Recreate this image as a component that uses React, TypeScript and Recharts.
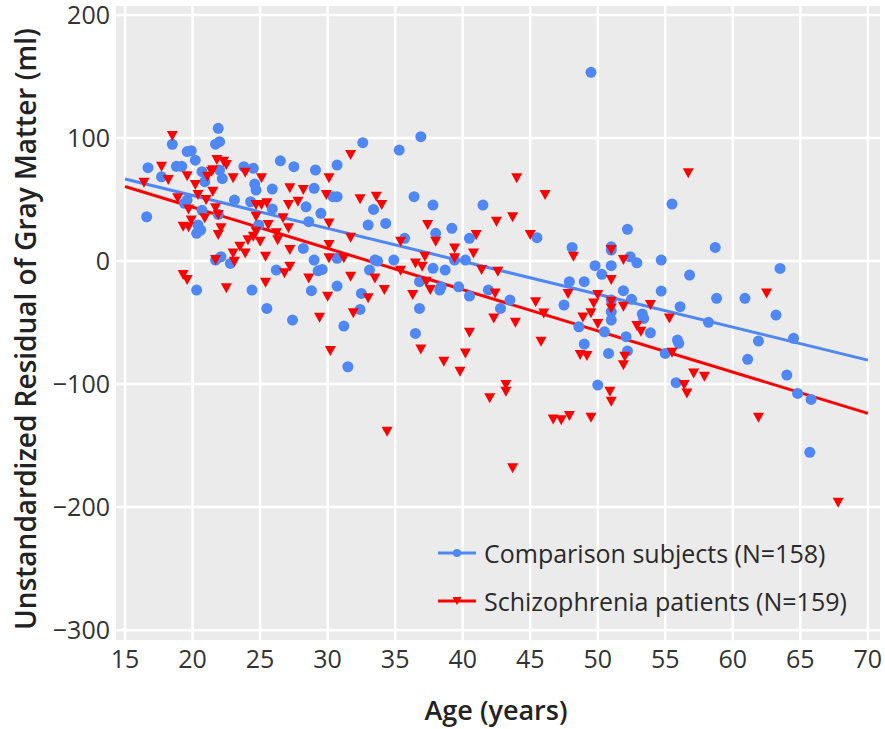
import { ScatterChart, Scatter, XAxis, YAxis, CartesianGrid } from 'recharts'

// Age (years) and gray-matter residual (ml) for each group
const comparisonAges = [
  21.9, 22.0, 21.7, 18.5, 19.6, 19.9, 20.2, 16.7, 18.8, 19.2, 17.7, 20.7, 22.0, 22.2, 20.9, 23.8,
  24.5, 26.5, 27.5, 24.6, 24.7, 25.9, 19.6, 19.4, 23.1, 24.3, 20.7, 21.9, 25.9, 16.6, 20.4, 20.3,
  20.6, 24.9, 26.2, 22.1, 21.7, 22.8, 20.3, 24.4, 25.5, 27.4,
  32.6, 36.9, 35.3, 29.1, 30.7, 29.0, 30.7, 30.4, 28.4, 29.5, 33.4, 33.0, 34.3, 36.4, 37.8, 41.5,
  39.2, 40.5, 38.0, 35.7, 28.6, 28.2, 29.0, 29.3, 29.6, 28.8, 30.7, 30.7, 32.5, 32.4, 31.2, 31.5,
  33.5, 33.7, 33.1, 34.9, 36.8, 36.8, 36.5, 37.8, 38.7, 38.4, 38.3, 39.4, 40.2, 39.7, 40.5, 41.9,
  42.8,
  49.5, 55.5, 45.5, 52.2, 48.1, 51.0, 51.0, 52.4, 52.9, 54.7, 49.8, 50.3, 51.0, 47.9, 49.0, 51.9,
  52.5, 54.7, 56.1, 56.8, 43.5, 47.5, 51.0, 51.0, 51.0, 53.3, 53.4, 48.6, 50.5, 52.1, 53.9, 55.9,
  56.0, 49.0, 50.8, 52.2, 55.0, 50.0, 55.8,
  58.7, 63.5, 58.8, 60.9, 63.2, 58.2, 61.9, 64.5, 61.1, 64.0, 64.8, 65.8, 65.7,
]
const comparisonResiduals = [
  107.9, 97, 95, 94.9, 89, 89.7, 82, 75.9, 77, 77, 68.5, 72.6, 74, 67, 64.5, 76.7,
  75.4, 81.5, 76.7, 62.6, 57.7, 58.5, 49.6, 46.9, 49.6, 48.2, 41.2, 38, 42.3, 36, 29.3, 22.5,
  25.2, 29.3, -7.3, 3.5, 0.8, -1.9, -23.6, -23.6, -38.5, -48,
  96.2, 101.1, 90.2, 74, 78, 59.1, 52.3, 52.3, 44.1, 38.8, 42, 29.3, 30.6, 52.3, 45.5, 45.5,
  26.6, 18.5, 22.5, 18.5, 32, 10.3, 0.8, -7.9, -6.8, -24.1, 2.2, -20.3, -26.3, -39.3, -52.8, -85.9,
  0.8, 0, -7.3, 0.8, -16.8, -38.5, -58.8, -5.9, -7.3, -20.9, -23.6, 0.8, 0.8, -20.9, -28.5, -23.6,
  -38.5,
  153.4, 46.3, 19, 25.8, 11.1, 11.6, 8.9, 3.5, -1.4, 0.8, -3.8, -10.8, -3.8, -16.8, -16.8, -24.1,
  -31.1, -24.4, -37.1, -11.4, -31.7, -35.8, -31.7, -41.2, -48, -43.1, -46.6, -53.4, -57.5, -61.5, -58.3, -64.2,
  -66.9, -67.5, -75.1, -73.2, -75.1, -100.8, -98.9,
  11.1, -6, -30.3, -30.3, -43.9, -49.8, -65, -62.8, -79.9, -92.7, -107.6, -112.5, -155.5,
]

const patientAges = [
  18.5, 17.7, 16.4, 18.2, 19.6, 20.2, 20.4, 18.9, 19.7, 19.9, 19.3, 19.7, 20.9, 21.0, 21.5, 21.1,
  21.4, 21.8, 22.3, 22.5, 21.5, 23.0, 23.9, 25.1, 21.7, 21.9, 21.9, 22.1, 24.7, 25.1, 25.5, 24.7,
  25.6, 24.7, 24.5, 25.0, 24.1, 23.5, 23.0, 23.9, 23.1, 21.7, 26.2, 26.3, 26.7, 27.1, 27.1, 27.8,
  28.2, 27.2, 25.4, 27.2, 27.2, 26.8, 28.6, 19.3, 19.6, 22.5, 25.4, 29.4,
  31.7, 30.1, 29.9, 32.4, 33.6, 34.0, 30.1, 31.7, 30.1, 30.1, 31.2, 31.7, 33.5, 30.0, 33.0, 34.2,
  31.9, 30.2, 35.4, 37.4, 38.0, 36.5, 37.2, 37.0, 35.4, 39.4, 39.4, 40.8, 41.0, 42.5, 41.4, 42.6,
  36.3, 37.3, 37.6, 42.4, 42.3, 40.5, 36.9, 38.6, 40.2, 39.8, 42.0, 34.4,
  44.0, 46.1, 43.7, 45.0, 56.7, 48.2, 51.0, 51.9, 51.0, 43.9, 45.4, 46.0, 45.8, 47.8, 50.0, 49.7,
  49.5, 51.0, 51.0, 51.9, 48.9, 50.0, 52.9, 53.2, 53.9, 55.3, 55.5, 48.7, 49.2, 52.0, 51.9, 43.2,
  43.2, 50.9, 51.0, 46.7, 47.3, 47.9, 49.5, 43.7, 56.4, 56.6,
  62.5, 57.1, 57.9, 61.9, 67.8,
]
const patientResiduals = [
  101.6, 76.7, 63.7, 65.8, 69, 61.8, 53.7, 51, 42, 33, 27.9, 27.4, 34.7, 49.6, 56.3, 68.5,
  72.6, 82.1, 80.7, 78, 73.9, 67.2, 71.8, 67.2, 42.9, 37.4, 21.1, 26.6, 45.5, 45.5, 46.9, 36,
  29.3, 23.8, 19.8, 15.7, 17, 11.6, 6.2, 6.2, -0.5, 0.8, 22.5, 17, 34.7, 26.6, 45.5, 48.2,
  57.7, 59.1, 3.5, 8.9, -4.6, -10, -14.1, -11.4, -15.4, -22.2, -17.6, -46,
  86.2, 67.2, 53.7, 50.2, 52.3, 45.5, 30.6, 19, 13, 2.2, 2.2, -12.7, -14.1, -29, -30.3, -23.6,
  -42.5, -73.2, 15.7, 29.3, 15.7, -1.9, 3.5, -4.6, -7.9, 10.3, 2.2, 6.2, 21.1, 32, -7.3, -8.7,
  -27.6, -16.8, -23.6, -26.3, -46.6, -58.3, -71.8, -81.9, -75.1, -90, -111.6, -138.8,
  67.2, 53.7, 35.5, 21.1, 71.3, 3.5, 8.9, 0.8, -15.4, -50.2, -33.4, -42.6, -65.6, -26.8, -27.6, -34.4,
  -42.5, -33.1, -38.5, -37.1, -45.8, -51.2, -52.8, -57.5, -35.8, -46.6, -74.5, -76.4, -77.2, -77.8, -84.6, -100.8,
  -106.3, -106.3, -114.4, -128.7, -129.3, -126, -127.4, -168.5, -100.8, -107.6,
  -26.3, -91.3, -94.1, -127.4, -196.5,
]

// Least-squares fit endpoints for each group
const fitAges = [15, 70]
const comparisonFit = [66.7, -80.5]
const patientFit = [60.6, -123.8]

const xTicks = [15, 20, 25, 30, 35, 40, 45, 50, 55, 60, 65, 70]
const yTicks = [-300, -200, -100, 0, 100, 200]

const BLUE = '#4f87f6'
const RED = '#ff0000'
const FONT = '"Open Sans", "Noto Sans", sans-serif'

const toPoints = (xs: number[], ys: number[]) => xs.map((x, i) => ({ x, y: ys[i] }))

const comparisonData = toPoints(comparisonAges, comparisonResiduals)
const patientData = toPoints(patientAges, patientResiduals)
const comparisonLine = toPoints(fitAges, comparisonFit)
const patientLine = toPoints(fitAges, patientFit)

const Circle = (props: any) => <circle cx={props.cx} cy={props.cy} r={5.5} fill={BLUE} />

const Triangle = (props: any) => {
  const { cx, cy } = props
  const w = 11
  const h = 10
  return (
    <polygon
      points={`${cx - w / 2},${cy - h / 2} ${cx + w / 2},${cy - h / 2} ${cx},${cy + h / 2}`}
      fill={RED}
    />
  )
}

const Nothing = () => <g />

const YTitle = (props: any) => {
  const vb = props.viewBox
  const x = vb.x + 25
  const y = vb.y + vb.height / 2 + 6
  return (
    <text
      x={x}
      y={y}
      transform={`rotate(-90 ${x} ${y})`}
      textAnchor="middle"
      dominantBaseline="central"
      fill="#222"
      fontFamily={FONT}
      fontSize={28}
      fontWeight={600}
    >
      Unstandardized Residual of Gray Matter (ml)
    </text>
  )
}

const XTitle = (props: any) => {
  const vb = props.viewBox
  return (
    <text
      x={vb.x + vb.width / 2 - 2}
      y={vb.y + 69}
      textAnchor="middle"
      dominantBaseline="central"
      fill="#222"
      fontFamily={FONT}
      fontSize={27}
      fontWeight={600}
    >
      Age (years)
    </text>
  )
}

function LegendRow({ color, marker, label, top }: { color: string; marker: 'circle' | 'tri'; label: string; top: number }) {
  return (
    <div style={{ position: 'absolute', left: 436, top, display: 'flex', alignItems: 'center', height: 30 }}>
      <svg width={42} height={14} style={{ marginRight: 6 }}>
        <line x1={2} y1={7} x2={40} y2={7} stroke={color} strokeWidth={3} />
        {marker === 'circle' ? (
          <circle cx={21} cy={7} r={4} fill={color} />
        ) : (
          <polygon points="16.5,3 25.5,3 21,11" fill={color} />
        )}
      </svg>
      <span style={{ fontFamily: FONT, fontSize: 25, color: '#2a2a2a', whiteSpace: 'nowrap' }}>{label}</span>
    </div>
  )
}

export default function App() {
  return (
    <div style={{ position: 'absolute', left: 0, top: 0, width: 885, height: 729, background: '#fff' }}>
      <ScatterChart width={885} height={729} margin={{ top: 6, right: 5, bottom: 0, left: 0 }}>
        <CartesianGrid fill="#ebebeb" stroke="#ffffff" strokeWidth={2.5} horizontalValues={yTicks} verticalValues={xTicks} />
        <XAxis
          type="number"
          dataKey="x"
          domain={[14.33, 70.9]}
          ticks={xTicks}
          allowDataOverflow
          height={89}
          axisLine={false}
          tickLine={false}
          tickSize={0}
          tickMargin={10}
          tick={{ fill: '#333', fontSize: 25, fontFamily: FONT }}
          label={{ content: XTitle }}
        />
        <YAxis
          type="number"
          dataKey="y"
          domain={[-308, 207.3]}
          ticks={yTicks}
          allowDataOverflow
          width={116}
          axisLine={false}
          tickLine={false}
          tickSize={0}
          tickMargin={6}
          tickFormatter={(v: number) => (v < 0 ? `\u2212${Math.abs(v)}` : `${v}`)}
          tick={{ fill: '#333', fontSize: 25, fontFamily: FONT }}
          label={{ content: YTitle }}
        />
        <Scatter data={comparisonLine} line={{ stroke: BLUE, strokeWidth: 3 }} shape={Nothing} isAnimationActive={false} />
        <Scatter data={patientLine} line={{ stroke: RED, strokeWidth: 3 }} shape={Nothing} isAnimationActive={false} />
        <Scatter name="Comparison subjects (N=158)" data={comparisonData} shape={Circle} isAnimationActive={false} />
        <Scatter name="Schizophrenia patients (N=159)" data={patientData} shape={Triangle} isAnimationActive={false} />
      </ScatterChart>
      <LegendRow color={BLUE} marker="circle" label="Comparison subjects (N=158)" top={538} />
      <LegendRow color={RED} marker="tri" label="Schizophrenia patients (N=159)" top={586} />
    </div>
  )
}
